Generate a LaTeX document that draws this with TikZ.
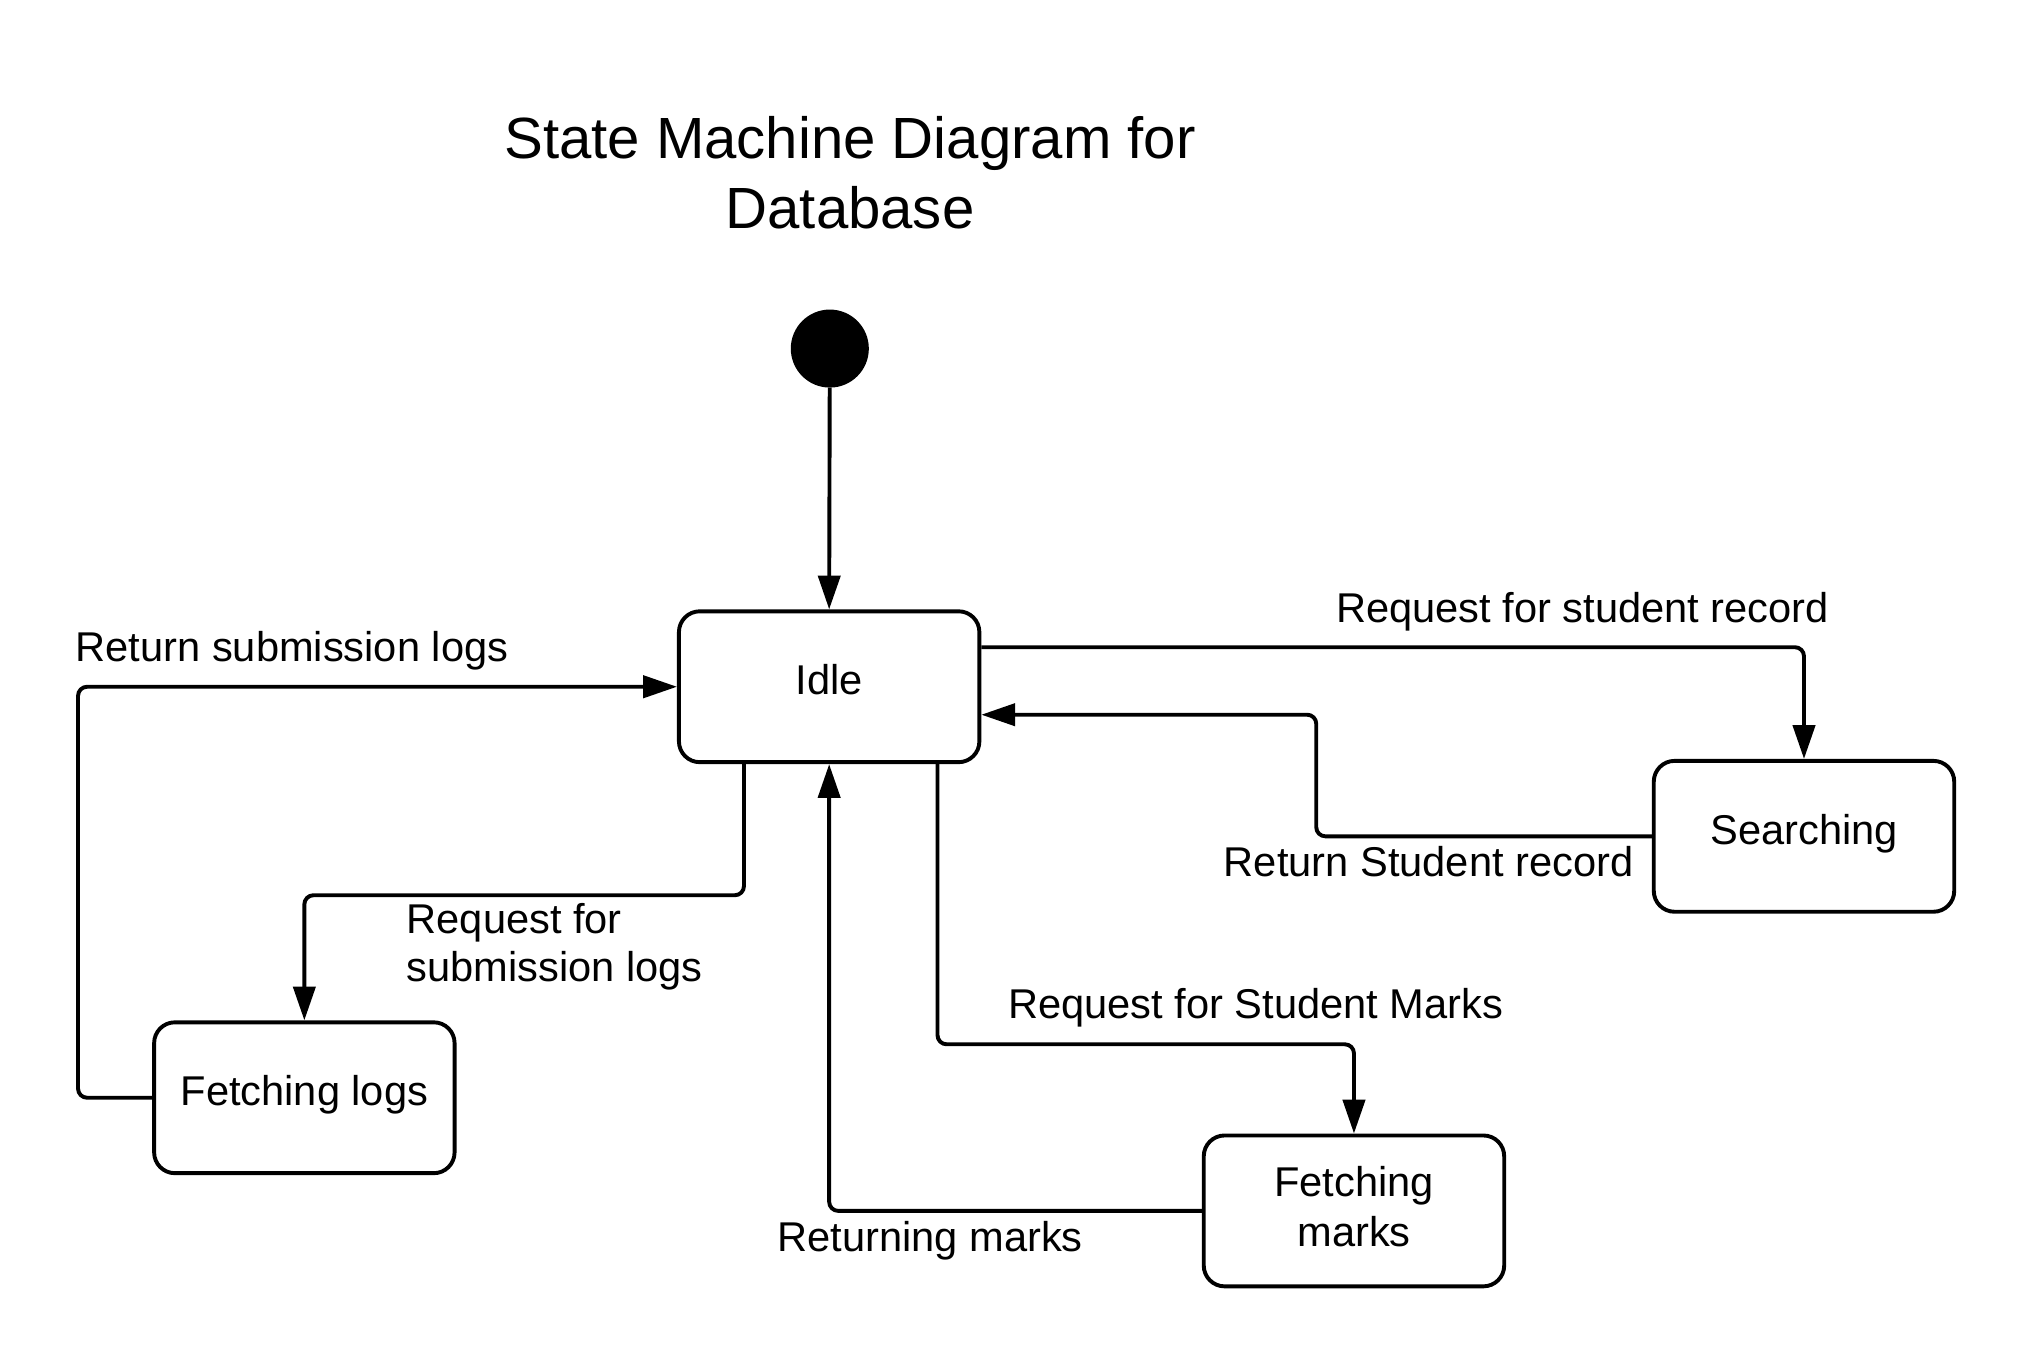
\documentclass[tikz,border=0pt]{standalone}
\usepackage{fontspec}
\setmainfont{Liberation Sans}
\usetikzlibrary{arrows.meta}
\begin{document}
\begin{tikzpicture}[x=1pt,y=-1pt,
  lbl/.style={font=\fontsize{32}{38.6}\selectfont, inner sep=0pt},
  statebox/.style={draw, line width=3pt, rounded corners=16pt, minimum width=231pt, minimum height=116pt, inner sep=0pt, font=\fontsize{32}{38.6}\selectfont, align=center},
  onel/.style={text height=24pt, text depth=12pt},
  conn/.style={line width=3pt, rounded corners=7pt, -{Triangle[length=26pt,width=17pt]}}
]
\useasboundingbox (0,0) rectangle (1560,1046.4);
\node[font=\fontsize{44.7}{53.6}\selectfont, align=center, inner sep=0pt] (title) at (653.5,133) {State Machine Diagram for\\Database};
\node[circle, fill=black, minimum size=60pt, inner sep=0pt] (init) at (638,268) {};
\node[statebox, onel] (idle) at (637.5,528) {Idle};
\node[statebox, onel] (search) at (1387,643) {Searching};
\node[statebox, onel] (flogs) at (234,844) {Fetching logs};
\node[statebox, text depth=7pt] (fmarks) at (1041,931) {Fetching\\marks};

\draw[conn] (init) -- (idle.north);
\draw[conn] ([yshift=30.4pt]idle.east) -| (search.north);
\draw[conn] (search.west) -| (1012,549.5) -- ([yshift=-21.5pt]idle.east);
\draw[conn] ([xshift=-65.5pt]idle.south) -- ++(0,100.8) -| (flogs.north);
\draw[conn] (flogs.west) -| (60,528) -- (idle.west);
\draw[conn] ([xshift=83.3pt]idle.south) -- ++(0,215.4) -| (fmarks.north);
\draw[conn] (fmarks.west) -| (idle.south);

\node[lbl, anchor=base west] (l1) at (1027,478.7) {Request for student record};
\node[lbl, anchor=base east] (l2) at (1256,674) {Return Student record};
\node[lbl, anchor=base west] (l3) at (58,508.7) {Return submission logs};
\node[lbl, anchor=base west] (l4a) at (312.5,717.5) {Request for};
\node[lbl, anchor=base west] (l4b) at (312.5,754.8) {submission logs};
\node[lbl, anchor=base west] (l5) at (775,782.8) {Request for Student Marks};
\node[lbl, anchor=base west] (l6) at (597.5,962.4) {Returning marks};
\end{tikzpicture}
\end{document}
